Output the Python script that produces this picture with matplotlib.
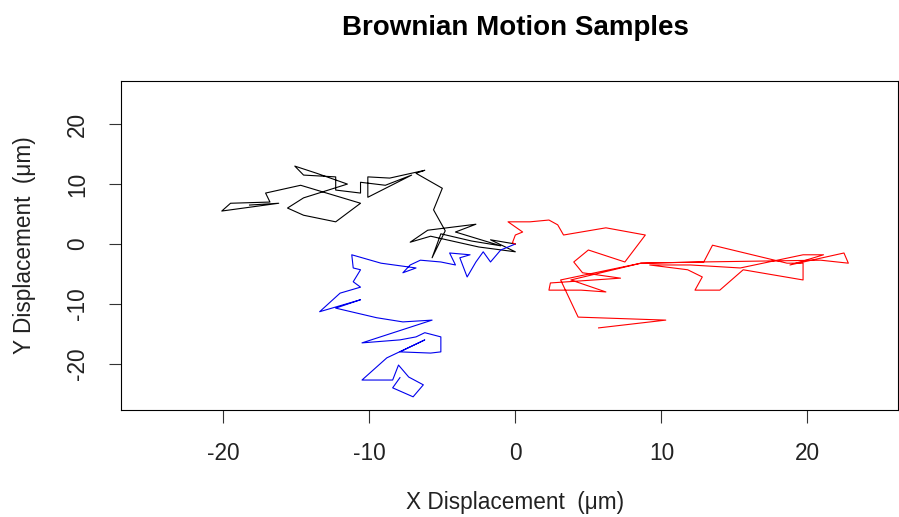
import matplotlib
matplotlib.use("Agg")
import matplotlib.pyplot as plt

# Brownian motion sample paths (data units, micrometres)
black_x = [0, -1.7, 0, -2.5, -5.8, -7.2, -6.0, -2.7, -4.1, -1.0, -3.0, -5.1, -5.7, -4.8, -5.6,
           -5.0, -6.8, -6.2, -8.6, -10.1, -10.1, -7.1, -8.9, -10.6, -10.6, -12.3, -12.3, -14.5,
           -15.1, -13.6, -11.5, -14.5, -15.6, -14.5, -12.3, -10.6, -14.7, -17.1, -16.8, -19.5,
           -20.1, -16.2, -18.2]
black_y = [0, 0.7, -1.3, -0.5, 1.3, 0.3, 2.3, 3.3, 2.0, -0.3, 0.5, 1.7, -2.3, 2.2, 5.7,
           9.3, 11.8, 12.3, 11.0, 11.2, 7.8, 11.5, 9.8, 10.3, 8.5, 9.0, 11.2, 11.5,
           13.0, 11.8, 10.0, 7.7, 6.0, 4.8, 3.7, 6.8, 9.8, 8.5, 7.0, 6.8,
           5.5, 6.8, 6.5]

blue_x = [0, -1.0, -1.7, -2.2, -2.7, -3.3, -3.8, -3.1, -4.5, -4.1, -5.1, -6.5, -7.2, -7.7, -6.8,
          -9.2, -11.2, -11.1, -10.6, -11.1, -10.6, -12.0, -13.4, -10.6, -12.3, -9.5, -7.7, -5.7,
          -10.5, -7.9, -6.8, -6.2, -5.1, -5.1, -5.8, -7.9, -6.2, -8.8, -10.5, -8.4, -8.0, -7.3,
          -6.3, -7.0, -8.4, -7.9]
blue_y = [0, -1.0, -3.0, -1.3, -3.0, -5.5, -2.3, -1.8, -1.5, -3.5, -3.0, -2.7, -3.5, -4.8, -4.0,
          -3.2, -1.8, -4.0, -4.3, -6.3, -7.2, -8.2, -11.3, -9.3, -10.7, -12.3, -13.0, -12.7,
          -16.5, -16.0, -15.5, -14.8, -15.5, -18.0, -18.2, -18.0, -16.0, -19.0, -22.7, -22.7,
          -20.2, -22.2, -23.5, -25.5, -24.0, -22.3]

red_x = [0, -0.2, 0, 0.5, -0.5, 1.0, 2.3, 2.9, 3.3, 6.2, 8.9, 7.5, 5.0, 4.0, 4.6, 7.2, 2.4, 2.3,
         4.5, 6.2, 3.8, 8.6, 12.9, 13.5, 18.6, 19.7, 19.7, 15.6, 14.0, 12.3, 12.8, 11.8, 9.2,
         12.0, 15.4, 19.7, 21.1, 18.8, 22.5, 22.8, 20.9, 12.7, 8.6, 3.1, 4.3, 10.3, 5.7]
red_y = [0, 0.2, 1.5, 2.0, 3.7, 3.7, 4.0, 3.2, 1.5, 2.7, 1.5, -3.0, -1.0, -3.0, -4.8, -5.7, -6.5,
         -7.7, -7.7, -8.0, -6.0, -3.2, -3.0, -0.2, -3.2, -3.2, -6.0, -4.3, -7.7, -7.7, -5.5,
         -4.3, -3.5, -3.5, -4.0, -1.8, -1.8, -3.5, -1.5, -3.2, -2.7, -3.0, -3.2, -6.0, -12.2,
         -12.7, -14.0]

x_ticks = [-20, -10, 0, 10, 20]
y_ticks = [-20, -10, 0, 10, 20]

plt.rcParams['font.family'] = ['Liberation Sans', 'DejaVu Sans']

W, H = 899, 517
fig = plt.figure(figsize=(W / 100, H / 100), dpi=100)
ax = fig.add_axes([121 / W, (H - 410) / H, (898 - 121) / W, (410 - 81) / H])

ax.plot(black_x, black_y, color='black', lw=0.8)
ax.plot(blue_x, blue_y, color='#0000EE', lw=0.8)
ax.plot(red_x, red_y, color='red', lw=0.8)

ax.set_xlim(-27.0, 26.2)
ax.set_ylim(-27.7, 27.2)
ax.set_xticks(x_ticks)
ax.set_yticks(y_ticks)
ax.set_xticklabels([str(v) for v in x_ticks])
ax.set_yticklabels([str(v) for v in y_ticks], rotation=90, va='center')
ax.tick_params(axis='both', length=9, width=0.8, labelsize=16.3, pad=14, color='#333333',
               labelcolor='#222222')
for s in ax.spines.values():
    s.set_linewidth(0.8)

fig.text(515 / W, 1 - 28 / H, 'Brownian Motion Samples', ha='center', va='center',
         fontsize=20, fontweight='bold')
fig.text(515 / W, 1 - 503 / H, 'X Displacement  (\u03bcm)', ha='center', va='center',
         fontsize=16.3, color='#222222')
fig.text(25 / W, 1 - 245 / H, 'Y Displacement  (\u03bcm)', ha='center', va='center',
         fontsize=16.3, rotation=90, color='#222222')

fig.savefig('out.png', dpi=100)
